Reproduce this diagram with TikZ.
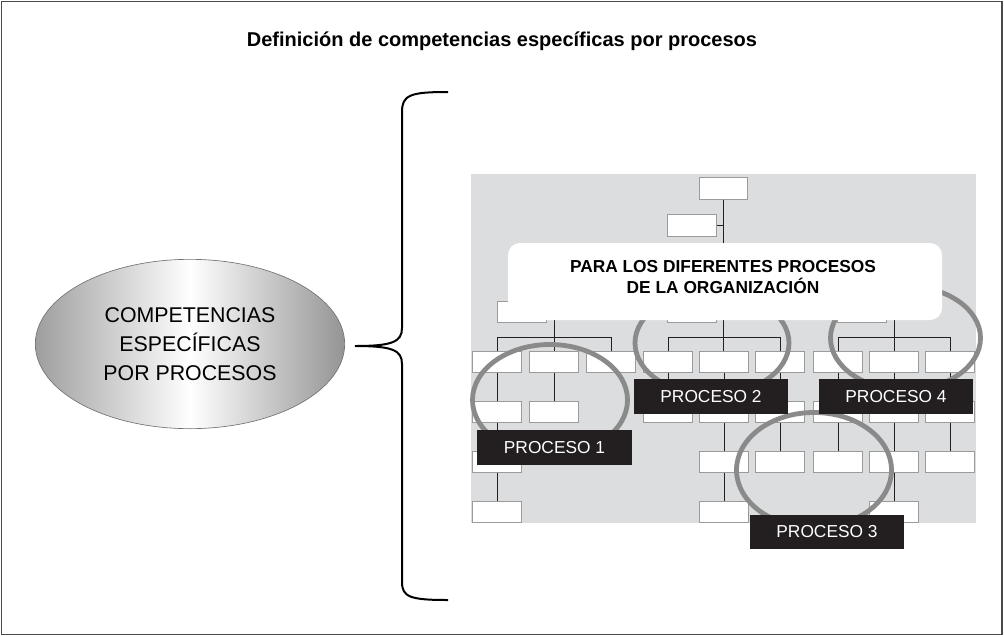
\documentclass[tikz,border=0pt]{standalone}
\usepackage{fontspec}
\setmainfont{Liberation Sans}
\usetikzlibrary{shapes.geometric}
\definecolor{bgray}{HTML}{DCDDDE}
\definecolor{boxline}{HTML}{9B9B9B}
\definecolor{ink}{HTML}{231F20}
\definecolor{ringc}{HTML}{8A8A8A}
\definecolor{framec}{HTML}{4A4A4A}
\tikzset{
  orgbox/.style={draw=boxline, line width=0.9pt, fill=white, minimum width=36.5pt, minimum height=16pt, inner sep=0pt},
  link/.style={draw=ink, line width=0.75pt},
  ring/.style={draw=ringc, line width=3.6pt},
  plabel/.style={fill=ink, text=white, minimum width=116pt, minimum height=26pt, inner sep=0pt, font=\fontsize{13}{15}\selectfont},
  callbox/.style={fill=white, rounded corners=9pt, minimum width=325.5pt, minimum height=57.75pt, inner sep=0pt},
  calltext/.style={align=center, inner sep=0pt, font=\bfseries\fontsize{13}{15.75}\selectfont},
  compell/.style={ellipse, draw=black!55, line width=0.5pt, left color=black!38, right color=black!42, middle color=white, minimum width=232pt, minimum height=127pt, inner sep=0pt, align=center, font=\fontsize{16}{22}\selectfont},
  bracepath/.style={draw=black, line width=1.5pt},
}
\begin{document}
\begin{tikzpicture}[x=0.75pt,y=-0.75pt]
\useasboundingbox (0,0) rectangle (1004,636);
\draw[framec, line width=0.8pt] (1.5,1.5) rectangle (1002,634.5);

% title
\node[font=\bfseries\fontsize{15}{18}\selectfont] (title) at (502,41) {Definición de competencias específicas por procesos};

% left ellipse
\node[compell] (comp) at (190,344) {COMPETENCIAS\\ESPECÍFICAS\\POR PROCESOS};

% brace
\coordinate (btop) at (448,92);
\coordinate (btip) at (355,346);
\coordinate (bbot) at (448,600);
\draw[bracepath] (btop) .. controls (410,92) and (402,95) .. (402,112) -- (402,328)
  .. controls (402,342) and (392,346) .. (btip)
  .. controls (392,346) and (402,350) .. (402,364) -- (402,582)
  .. controls (402,597) and (410,600) .. (bbot);

% org chart background
\fill[bgray] (471,174) rectangle (976,523);

% boxes
\node[orgbox] (t0) at (723.5,188.5) {};
\node[orgbox] (t1) at (692,225.5) {};
\node[orgbox] (p1) at (522,312) {};
\node[orgbox] (p2) at (692,312) {};
\node[orgbox] (p4) at (862,312) {};
\foreach \n/\x in {1/497,2/554,3/611,4/668,5/724,6/780,7/838,8/894,9/950}
  \node[orgbox] (a\n) at (\x,362) {};
\foreach \n/\x in {1/497,2/554,4/668,5/724,6/780,7/838,8/894,9/950}
  \node[orgbox] (b\n) at (\x,412) {};
\foreach \n/\x in {1/497,5/724,6/780,7/838,8/894,9/950}
  \node[orgbox] (c\n) at (\x,462) {};
\foreach \n/\x in {1/497,5/724,8/894}
  \node[orgbox] (d\n) at (\x,512) {};

% connectors
\coordinate (j1) at (554,290);
\coordinate (j4) at (894,290);
\coordinate (hub1) at (554,337);
\coordinate (hub2) at (723.5,337);
\coordinate (hub4) at (894,337);
\draw[link] (t0.south) -- (hub2);
\draw[link] (t1.east) -- (t1.east -| t0.south);
\draw[link] (j1) -- (j4);
\draw[link] (j1) -- (hub1);
\draw[link] (j4) -- (hub4);
\draw[link] (hub1) -| (a1.north);
\draw[link] (hub1) -| (a3.north);
\draw[link] (hub1) -- (a2.north);
\draw[link] (hub2) -| (a4.north);
\draw[link] (hub2) -| (a6.north);
\draw[link] (hub2) -- (a5.north -| hub2);
\draw[link] (hub4) -| (a7.north);
\draw[link] (hub4) -| (a9.north);
\draw[link] (hub4) -- (a8.north);
\foreach \u/\v in {a1/b1,b1/c1,c1/d1,a2/b2,a4/b4,a5/b5,b5/c5,c5/d5,a6/b6,b6/c6,a7/b7,b7/c7,a8/b8,b8/c8,c8/d8,a9/b9,b9/c9}
  \draw[link] (\u.south) -- (\v.north);

% rings
\draw[ring] (550,400) ellipse [x radius=77.5, y radius=55.5];
\draw[ring] (712,343) ellipse [x radius=77, y radius=52];
\draw[ring] (905.5,338) ellipse [x radius=75, y radius=52];
\draw[ring] (814,470) ellipse [x radius=77.5, y radius=57.5];

% callout
\node[callbox] (call) at (725,281.5) {};
\node[calltext] (calltxt) at (723,277.5) {PARA LOS DIFERENTES PROCESOS\\DE LA ORGANIZACIÓN};

% process labels
\node[plabel] (pl1) at (554.5,447.5) {PROCESO 1};
\node[plabel] (pl2) at (711,396.5) {PROCESO 2};
\node[plabel] (pl4) at (896,396.5) {PROCESO 4};
\node[plabel] (pl3) at (827,532) {PROCESO 3};
\end{tikzpicture}
\end{document}
